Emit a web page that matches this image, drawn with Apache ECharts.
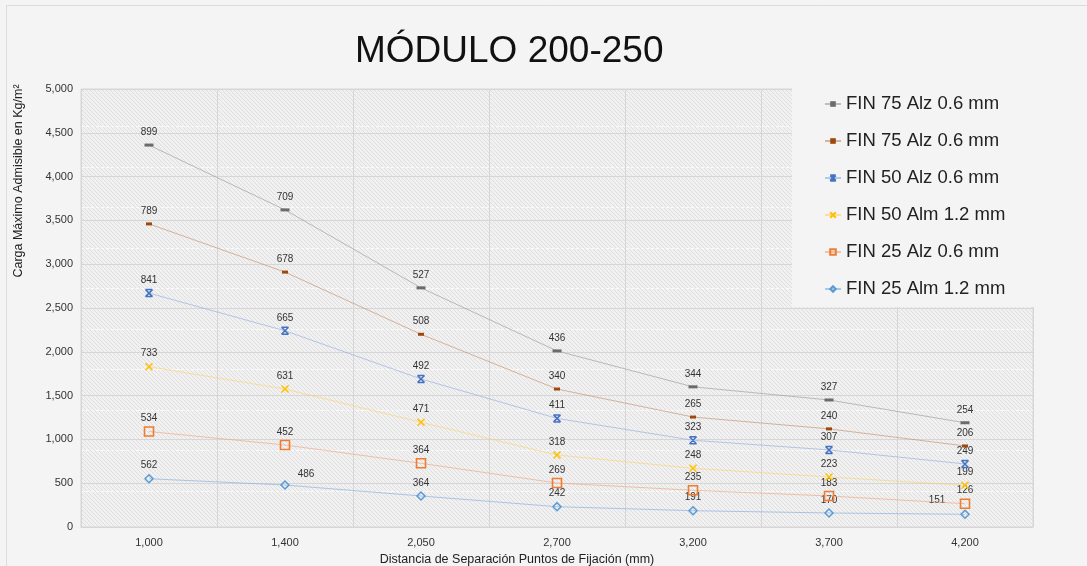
<!DOCTYPE html>
<html><head><meta charset="utf-8">
<script src="https://cdn.jsdelivr.net/npm/echarts@6/dist/echarts.min.js"></script>
<style>html,body{margin:0;padding:0;background:#f4f4f4}#c{width:1087px;height:566px}</style>
</head><body><div id="c"></div>
<script>
// ---- data ----
const categories = ['1,000', '1,400', '2,050', '2,700', '3,200', '3,700', '4,200'];
const seriesNames = ['FIN 75 Alz 0.6 mm', 'FIN 75 Alz 0.6 mm ', 'FIN 50 Alz 0.6 mm', 'FIN 50 Alm 1.2 mm', 'FIN 25 Alz 0.6 mm', 'FIN 25 Alm 1.2 mm'];
const legendLabels = ['FIN 75 Alz 0.6 mm', 'FIN 75 Alz 0.6 mm', 'FIN 50 Alz 0.6 mm', 'FIN 50 Alm 1.2 mm', 'FIN 25 Alz 0.6 mm', 'FIN 25 Alm 1.2 mm'];
const fin75AlzA = [4360, 3620, 2730, 2010, 1600, 1450, 1190];
const fin75AlzB = [3460, 2910, 2200, 1575, 1255, 1120, 925];
const fin50Alz = [2670, 2240, 1690, 1240, 990, 880, 720];
const fin50Alm = [1830, 1575, 1195, 822, 670, 571, 476];
const fin25Alz = [1090, 936, 727, 502, 419, 354, 266];
const fin25Alm = [551, 479, 354, 232, 186, 160, 145];
const labels75AlzA = [899, 709, 527, 436, 344, 327, 254];
const labels75AlzB = [789, 678, 508, 340, 265, 240, 206];
const labels50Alz = [841, 665, 492, 411, 323, 307, 249];
const labels50Alm = [733, 631, 471, 318, 248, 223, 199];
const labels25Alz = [534, 452, 364, 269, 235, 183, 126];
const labels25Alm = [562, 486, 364, 242, 191, 170, 151];
const yTicks = { min: 0, max: 5000, interval: 500 };

// ---- styles ----
function hatch() {
  const c = document.createElement('canvas');
  c.width = 4; c.height = 4;
  const g = c.getContext('2d');
  g.fillStyle = '#f1f1f1'; g.fillRect(0, 0, 4, 4);
  g.fillStyle = '#dedede';
  for (let i = 0; i < 4; i++) g.fillRect(i, i, 1, 1);
  return c;
}
const FONT = '"Liberation Sans", Arial, Helvetica, sans-serif';
const starPath = 'path://M0,0L10,10M10,0L0,10M0,0L10,0M0,10L10,10';
const xPath = 'path://M0,0L10,10M10,0L0,10';

const specs = [
  { vals: fin75AlzA, labs: labels75AlzA, symbol: 'rect', size: [9, 3], fill: '#6b6b6b', border: '#6b6b6b', bw: 0, line: 'rgba(150,150,150,0.6)' },
  { vals: fin75AlzB, labs: labels75AlzB, symbol: 'rect', size: [6, 3], fill: '#9e480e', border: '#9e480e', bw: 0, line: 'rgba(190,130,90,0.55)' },
  { vals: fin50Alz, labs: labels50Alz, symbol: starPath, size: 7, fill: 'transparent', border: '#4472c4', bw: 1.5, line: 'rgba(140,170,220,0.6)' },
  { vals: fin50Alm, labs: labels50Alm, symbol: xPath, size: 7, fill: 'transparent', border: '#ffc000', bw: 1.5, line: 'rgba(255,205,90,0.55)' },
  { vals: fin25Alz, labs: labels25Alz, symbol: 'rect', size: 9, fill: 'transparent', border: '#ed7d31', bw: 1.6, line: 'rgba(240,160,120,0.6)' },
  { vals: fin25Alm, labs: labels25Alm, symbol: 'diamond', size: 8, fill: 'transparent', border: '#5b9bd5', bw: 1.5, line: 'rgba(130,175,225,0.65)' }
];
const labelOffsetOverride = { '5-1': [21, -11], '5-6': [-28, -14] };

const series = specs.map((s, si) => ({
  name: seriesNames[si],
  type: 'line',
  symbol: s.symbol,
  symbolSize: s.size,
  z: 10 - si,
  lineStyle: { color: s.line, width: 1 },
  itemStyle: { color: s.fill, borderColor: s.border, borderWidth: s.bw },
  emphasis: { disabled: true },
  label: {
    show: true, position: 'inside', offset: [0, -13],
    color: '#333', fontSize: 10, fontFamily: FONT,
    formatter: p => String(s.labs[p.dataIndex])
  },
  data: s.vals.map((v, i) => {
    const o = labelOffsetOverride[si + '-' + i];
    return o ? { value: v, label: { offset: o } } : v;
  })
}));

// hidden axis carrying the dashed white minor lines
series.push({ type: 'line', yAxisIndex: 1, data: [], silent: true });

const chart = echarts.init(document.getElementById('c'), null, { renderer: 'canvas' });
chart.setOption({
  backgroundColor: '#f4f4f4',
  animation: false,
  title: {
    text: 'MÓDULO 200-250', left: 355, top: 33, padding: 0,
    textStyle: { fontSize: 37, fontWeight: 'normal', color: '#111', fontFamily: FONT }
  },
  legend: {
    orient: 'vertical', left: 792, top: 85,
    padding: [9, 40, 8, 32], itemGap: 17, itemWidth: 16, itemHeight: 7,
    backgroundColor: '#f4f4f4',
    data: seriesNames,
    formatter: n => legendLabels[seriesNames.indexOf(n)],
    textStyle: { fontSize: 18.5, color: '#222', fontFamily: FONT, lineHeight: 20 }
  },
  grid: {
    left: 81, right: 54, top: 89, bottom: 39, show: true,
    backgroundColor: { image: hatch(), repeat: 'repeat' },
    borderColor: '#d6d6d6', borderWidth: 1
  },
  xAxis: {
    type: 'category', data: categories, boundaryGap: true,
    axisLine: { show: true, lineStyle: { color: '#d6d6d6' } },
    axisTick: { show: false },
    axisLabel: { color: '#333', fontSize: 11, margin: 10, fontFamily: FONT },
    splitLine: { show: true, lineStyle: { color: '#d6d6d6', width: 1 } }
  },
  yAxis: [{
    type: 'value', min: yTicks.min, max: yTicks.max, interval: yTicks.interval,
    axisLine: { show: false }, axisTick: { show: false },
    axisLabel: { color: '#333', fontSize: 11, margin: 8, fontFamily: FONT, formatter: v => v.toLocaleString('en-US') },
    splitLine: { show: true, lineStyle: { color: '#d6d6d6', width: 1 } }
  }, {
    type: 'value', min: -0.884, max: 9.931, splitNumber: 10, position: 'right',
    axisLine: { show: false }, axisTick: { show: false }, axisLabel: { show: false },
    splitLine: { show: true, showMinLine: false, showMaxLine: false, lineStyle: { color: '#fbfbfb', width: 1, type: [3, 2] } }
  }],
  graphic: [
    { type: 'rect', silent: true, z: -1, shape: { x: 6.5, y: 5.5, width: 1200, height: 700 }, style: { fill: 'none', stroke: '#dcdcdc', lineWidth: 1 } },
    { type: 'text', silent: true, x: 19, y: 181, rotation: Math.PI / 2,
      style: { text: 'Carga Máximo Admisible en Kg/m²', fontSize: 12.5, fill: '#222', fontFamily: FONT, align: 'center', verticalAlign: 'middle' } },
    { type: 'text', silent: true, x: 517, y: 560,
      style: { text: 'Distancia de Separación Puntos de Fijación (mm)', fontSize: 12.5, fill: '#222', fontFamily: FONT, align: 'center', verticalAlign: 'middle' } }
  ],
  series: series
});
</script></body></html>
